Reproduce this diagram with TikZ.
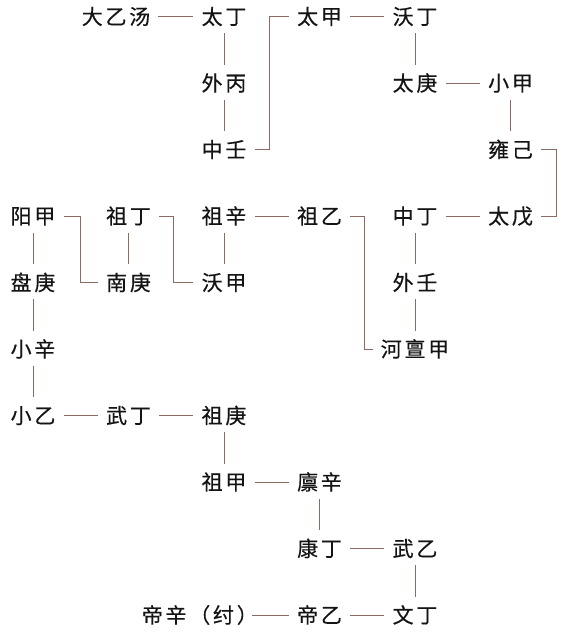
\documentclass[tikz,border=0pt]{standalone}
\usepackage{fontspec}
\newfontfamily\cjk[LetterSpace=13,FakeBold=0.4]{Noto Sans CJK SC}
\definecolor{ln}{RGB}{140,108,98}
\definecolor{tx}{RGB}{20,20,20}
\begin{document}
\begin{tikzpicture}[x=1pt,y=-1pt,
  nd/.style={font=\cjk\fontsize{21}{21}\selectfont, text=tx, inner xsep=8pt, inner ysep=0pt, text height=17.4pt, text depth=1.5pt},
  cn/.style={draw=ln, line width=0.8pt}]
\useasboundingbox (0,0) rectangle (566,633);
\node[nd] (dayi) at (116,16.5) {大乙汤};
\node[nd] (taiding) at (224,16.5) {太丁};
\node[nd] (waibing) at (224,83) {外丙};
\node[nd] (zhongren) at (224,149.5) {中壬};
\node[nd] (taijia) at (319.5,16.5) {太甲};
\node[nd] (woding) at (415,16.5) {沃丁};
\node[nd] (taigeng) at (415,83) {太庚};
\node[nd] (xiaojia) at (510.5,83) {小甲};
\node[nd] (yongji) at (510.5,149.5) {雍己};
\node[nd] (taiwu) at (510.5,216) {太戊};
\node[nd] (zhongding) at (415,216) {中丁};
\node[nd] (wairen) at (415,282.5) {外壬};
\node[nd] (hedanjia) at (415,349) {河亶甲};
\node[nd] (zuyi) at (319.5,216) {祖乙};
\node[nd] (zuxin) at (224,216) {祖辛};
\node[nd] (wojia) at (224,282.5) {沃甲};
\node[nd] (zuding) at (128.5,216) {祖丁};
\node[nd] (nangeng) at (128.5,282.5) {南庚};
\node[nd] (yangjia) at (33,216) {阳甲};
\node[nd] (pangeng) at (33,282.5) {盘庚};
\node[nd] (xiaoxin) at (33,349) {小辛};
\node[nd] (xiaoyi) at (33,415.5) {小乙};
\node[nd] (wuding) at (128.5,415.5) {武丁};
\node[nd] (zugeng) at (224,415.5) {祖庚};
\node[nd] (zujia) at (224,482) {祖甲};
\node[nd] (linxin) at (319.5,482) {廪辛};
\node[nd] (kangding) at (319.5,548.5) {康丁};
\node[nd] (wuyi) at (415,548.5) {武乙};
\node[nd] (wending) at (415,615) {文丁};
\node[nd] (diyi) at (319.5,615) {帝乙};
\node[nd,anchor=east] (dixin) at (266,615) {帝辛（纣）};
% horizontal
\draw[cn] (dayi) -- (taiding);
\draw[cn] (taijia) -- (woding);
\draw[cn] (taigeng) -- (xiaojia);
\draw[cn] (zhongding) -- (taiwu);
\draw[cn] (zuxin) -- (zuyi);
\draw[cn] (xiaoyi) -- (wuding);
\draw[cn] (wuding) -- (zugeng);
\draw[cn] (zujia) -- (linxin);
\draw[cn] (kangding) -- (wuyi);
\draw[cn] (diyi) -- (wending);
\draw[cn] ([xshift=-14pt]dixin.east) -- (diyi.west);
% vertical
\draw[cn] ([yshift=-16.5pt]taiding.center) -- ([yshift=18.5pt]waibing.center);
\draw[cn] ([yshift=-16.5pt]waibing.center) -- ([yshift=18.5pt]zhongren.center);
\draw[cn] ([yshift=-16.5pt]woding.center) -- ([yshift=18.5pt]taigeng.center);
\draw[cn] ([yshift=-16.5pt]xiaojia.center) -- ([yshift=18.5pt]yongji.center);
\draw[cn] ([yshift=-16.5pt]zhongding.center) -- ([yshift=18.5pt]wairen.center);
\draw[cn] ([yshift=-16.5pt]wairen.center) -- ([yshift=18.5pt]hedanjia.center);
\draw[cn] ([yshift=-16.5pt]zuxin.center) -- ([yshift=18.5pt]wojia.center);
\draw[cn] ([yshift=-16.5pt]zuding.center) -- ([yshift=18.5pt]nangeng.center);
\draw[cn] ([yshift=-16.5pt]yangjia.center) -- ([yshift=18.5pt]pangeng.center);
\draw[cn] ([yshift=-16.5pt]pangeng.center) -- ([yshift=18.5pt]xiaoxin.center);
\draw[cn] ([yshift=-16.5pt]xiaoxin.center) -- ([yshift=18.5pt]xiaoyi.center);
\draw[cn] ([yshift=-16.5pt]zugeng.center) -- ([yshift=18.5pt]zujia.center);
\draw[cn] ([yshift=-16.5pt]linxin.center) -- ([yshift=18.5pt]kangding.center);
\draw[cn] ([yshift=-16.5pt]wuyi.center) -- ([yshift=18.5pt]wending.center);
% elbows
\draw[cn] (zhongren.east) -- ++(14.5,0) |- (taijia.west);
\draw[cn] (yongji.east) -- ++(15,0) |- (taiwu.east);
\draw[cn] (zuyi.east) -- ++(14.5,0) |- (hedanjia.west);
\draw[cn] (zuding.east) -- ++(14,0) |- (wojia.west);
\draw[cn] (yangjia.east) -- ++(17,0) |- (nangeng.west);
\end{tikzpicture}
\end{document}
